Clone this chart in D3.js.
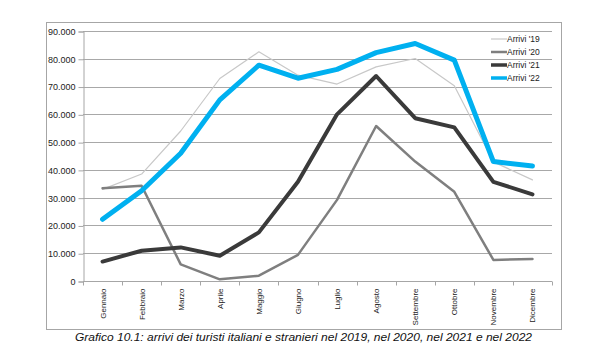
<!DOCTYPE html>
<html>
<head>
<meta charset="utf-8">
<script src="https://cdn.jsdelivr.net/npm/d3@7"></script>
<style>
  body { margin: 0; background: #fff; }
  svg { display: block; font-family: 'Liberation Sans', Arial, sans-serif; }
</style>
</head>
<body>
<div class="display"></div>
<script>
const months = ['Gennaio', 'Febbraio', 'Marzo', 'Aprile', 'Maggio', 'Giugno', 'Luglio',
    'Agosto', 'Settembre', 'Ottobre', 'Novembre', 'Dicembre'];
const arrivi19 = [33000, 38500, 54000, 72900, 82500, 74100, 70900, 77100, 80100, 70300, 42900, 36400];
const arrivi20 = [33400, 34300, 6000, 600, 1900, 9400, 29200, 55800, 43000, 32100, 7600, 7900];
const arrivi21 = [7000, 10900, 12100, 9100, 17500, 35700, 60000, 73800, 58600, 55300, 35700, 31200];
const arrivi22 = [22200, 32500, 46000, 65200, 77700, 73000, 76200, 82200, 85500, 79500, 43000, 41400];
const yTicks = [0, 10000, 20000, 30000, 40000, 50000, 60000, 70000, 80000, 90000];

const series = [
    { name: "Arrivi '19", values: arrivi19, color: '#c8c8c8', width: 1.2 },
    { name: "Arrivi '20", values: arrivi20, color: '#7f7f7f', width: 2.5 },
    { name: "Arrivi '21", values: arrivi21, color: '#3a3a3a', width: 4 },
    { name: "Arrivi '22", values: arrivi22, color: '#00b0f0', width: 5 }
];

const width = 609;
const height = 353;
const plot = { left: 83, right: 552, top: 31, bottom: 281 };

const svg = d3.select('.display')
    .append('svg')
    .attr('width', width)
    .attr('height', height);

// outer frame
svg.append('rect')
    .attr('x', 46.5)
    .attr('y', 22.5)
    .attr('width', 515)
    .attr('height', 307)
    .attr('fill', 'none')
    .attr('stroke', '#a6a6a6');

const xScale = d3.scaleBand()
    .domain(months)
    .range([plot.left, plot.right]);

const yScale = d3.scaleLinear()
    .domain([0, 90000])
    .range([plot.bottom, plot.top]);

const fmt = d => d === 0 ? '0' : d3.format(',')(d).replace(/,/g, '.');

// gridlines
svg.append('g')
    .selectAll('line')
    .data(yTicks.filter(d => d > 0))
    .enter()
    .append('line')
    .attr('x1', plot.left)
    .attr('x2', plot.right)
    .attr('y1', d => Math.round(yScale(d)) + 0.5)
    .attr('y2', d => Math.round(yScale(d)) + 0.5)
    .attr('stroke', '#a8a8a8')
    .attr('stroke-width', 1);

const yAxis = d3.axisLeft(yScale)
    .tickValues(yTicks)
    .tickSize(5)
    .tickFormat(fmt);

svg.append('g')
    .attr('transform', `translate(${plot.left + 0.5}, 0.5)`)
    .call(yAxis)
    .call(g => g.select('.domain').attr('stroke', '#a6a6a6'))
    .call(g => g.selectAll('.tick line').attr('stroke', '#a6a6a6'))
    .call(g => g.selectAll('.tick text')
        .attr('x', -8)
        .attr('fill', '#222')
        .style('font-size', '9px'));

// x axis with ticks between categories
const xAxisG = svg.append('g')
    .attr('transform', `translate(0, ${Math.round(plot.bottom) + 0.5})`);

xAxisG.append('line')
    .attr('x1', plot.left)
    .attr('x2', plot.right)
    .attr('stroke', '#a6a6a6');

xAxisG.selectAll('.sep')
    .data(d3.range(months.length + 1))
    .enter()
    .append('line')
    .attr('class', 'sep')
    .attr('x1', i => Math.round(plot.left + i * xScale.step()) + 0.5)
    .attr('x2', i => Math.round(plot.left + i * xScale.step()) + 0.5)
    .attr('y1', 0)
    .attr('y2', 4)
    .attr('stroke', '#a6a6a6');

xAxisG.selectAll('text')
    .data(months)
    .enter()
    .append('text')
    .attr('transform', d => `translate(${xScale(d) + xScale.bandwidth() / 2 + 3}, 7) rotate(-90)`)
    .attr('text-anchor', 'end')
    .attr('fill', '#222')
    .style('font-size', '8px')
    .text(d => d);

// lines
const line = d3.line()
    .x((d, i) => xScale(months[i]) + xScale.bandwidth() / 2)
    .y(d => yScale(d));

svg.append('g')
    .selectAll('path')
    .data(series)
    .enter()
    .append('path')
    .attr('d', d => line(d.values))
    .attr('fill', 'none')
    .attr('stroke', d => d.color)
    .attr('stroke-width', d => d.width)
    .attr('stroke-linejoin', 'round')
    .attr('stroke-linecap', 'round');

// legend
const legend = svg.append('g').attr('id', 'legend');
const legendY = [39, 52, 65, 78];

legend.selectAll('line')
    .data(series)
    .enter()
    .append('line')
    .attr('x1', 491)
    .attr('x2', 507)
    .attr('y1', (d, i) => legendY[i])
    .attr('y2', (d, i) => legendY[i])
    .attr('stroke', d => d.color)
    .attr('stroke-width', d => Math.min(d.width, 3.5));

legend.selectAll('text')
    .data(series)
    .enter()
    .append('text')
    .attr('x', 507)
    .attr('y', (d, i) => legendY[i] + 3)
    .attr('fill', '#222')
    .style('font-size', '8.5px')
    .text(d => d.name);

// caption
svg.append('text')
    .attr('x', 75)
    .attr('y', 341)
    .attr('textLength', 457)
    .attr('lengthAdjust', 'spacingAndGlyphs')
    .attr('fill', '#111')
    .style('font-style', 'italic')
    .style('font-size', '10.5px')
    .text('Grafico 10.1:  arrivi dei turisti italiani e stranieri nel 2019, nel 2020, nel 2021 e nel 2022');
</script>
</body>
</html>
